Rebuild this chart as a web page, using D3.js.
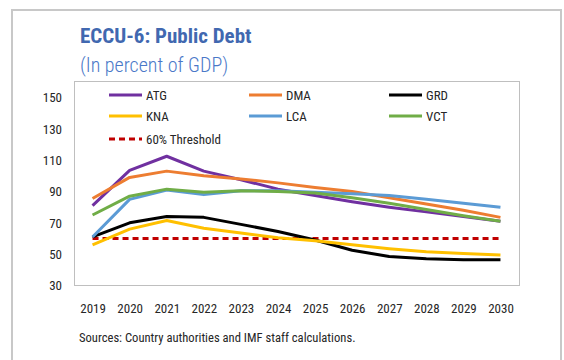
<!DOCTYPE html>
<html>
<head>
<meta charset="utf-8">
<script src="https://cdn.jsdelivr.net/npm/d3@7"></script>
<style>
  html, body { margin: 0; padding: 0; background: #fff; }
  svg { display: block; font-family: "Roboto Condensed", "Liberation Sans", sans-serif; }
</style>
</head>
<body>
<svg id="chart" width="564" height="360"></svg>
<script>
// Public debt, percent of GDP
const years = [2019, 2020, 2021, 2022, 2023, 2024, 2025, 2026, 2027, 2028, 2029, 2030];
const ATG = [81, 103.5, 112.5, 103, 97.5, 91.5, 87.5, 83.5, 80, 77, 74, 71];
const DMA = [85.5, 99, 103, 100, 98, 95.5, 92.5, 90, 86, 82, 78, 73.5];
const GRD = [61, 70, 74, 73.5, 69, 64.5, 59, 52.5, 48.5, 47, 46.5, 46.5];
const KNA = [56, 66, 71.5, 66.5, 63.5, 60.5, 58.5, 56, 53.5, 51.5, 50.5, 49.5];
const LCA = [61, 85, 91, 88, 90.5, 90.5, 89.5, 88.5, 87.5, 85, 82.5, 80];
const VCT = [75, 87, 91.5, 89.5, 90.5, 90, 89, 86, 82.5, 78.5, 74.5, 71];
const threshold = 60;
const yTicks = [30, 50, 70, 90, 110, 130, 150];

const series = [
  { name: "ATG", values: ATG, color: "#7030A0" },
  { name: "DMA", values: DMA, color: "#ED7D31" },
  { name: "GRD", values: GRD, color: "#000000" },
  { name: "KNA", values: KNA, color: "#FFC000" },
  { name: "LCA", values: LCA, color: "#5B9BD5" },
  { name: "VCT", values: VCT, color: "#70AD47" }
];
const thresholdColor = "#C00000";
const textColor = "#262626";
const labelSize = 13;

const svg = d3.select("#chart");

// outer frame
svg.append("rect")
  .attr("x", 12).attr("y", 10).attr("width", 549).attr("height", 360)
  .attr("fill", "none").attr("stroke", "#c8c8c8").attr("stroke-width", 2);

// title block
svg.append("text")
  .attr("x", 80).attr("y", 43)
  .attr("font-size", 21).attr("font-weight", "bold").attr("fill", "#4168B0")
  .text("ECCU-6: Public Debt");
svg.append("text")
  .attr("x", 80).attr("y", 72)
  .attr("font-size", 20).attr("fill", "#4A78C8").attr("font-weight", 300)
  .text("(In percent of GDP)");

const plot = { left: 74, top: 81, right: 519, bottom: 285 };

const x = d3.scalePoint().domain(years).range([plot.left, plot.right]).padding(0.5);
const y = d3.scaleLinear().domain([30, 150]).range([285.5, 97.5]);

// plot frame
svg.append("rect")
  .attr("x", plot.left + 0.5).attr("y", plot.top + 0.5)
  .attr("width", plot.right - plot.left).attr("height", plot.bottom - plot.top)
  .attr("fill", "none").attr("stroke", "#bfbfbf").attr("stroke-width", 1);

// y axis labels
const yAxis = d3.axisLeft(y).tickValues(yTicks).tickSize(0).tickPadding(0);
const gy = svg.append("g").attr("transform", "translate(62,0)").call(yAxis);
gy.select(".domain").remove();
gy.selectAll("text").attr("font-size", labelSize).attr("fill", textColor)
  .attr("font-family", "Roboto Condensed, sans-serif");

// x axis labels
const xAxis = d3.axisBottom(x).tickSize(0).tickPadding(0);
const gx = svg.append("g").attr("transform", "translate(0,304)").call(xAxis);
gx.select(".domain").remove();
gx.selectAll("text").attr("font-size", labelSize).attr("fill", textColor)
  .attr("font-family", "Roboto Condensed, sans-serif");

// threshold line
const line = d3.line().x((d, i) => x(years[i])).y(d => y(d));
svg.append("path")
  .datum(years.map(() => threshold))
  .attr("d", line)
  .attr("fill", "none").attr("stroke", thresholdColor)
  .attr("stroke-width", 3).attr("stroke-dasharray", "6,4");

// series lines
svg.append("g").selectAll("path")
  .data(series)
  .join("path")
  .attr("d", d => line(d.values))
  .attr("fill", "none")
  .attr("stroke", d => d.color)
  .attr("stroke-width", 3)
  .attr("stroke-linejoin", "round");

// legend
const legendCols = [109, 249, 389];
const legendRows = [95, 116, 139];
const lg = svg.append("g");
series.forEach((s, i) => {
  const cx = legendCols[i % 3], cy = legendRows[Math.floor(i / 3)];
  lg.append("line").attr("x1", cx).attr("x2", cx + 33).attr("y1", cy).attr("y2", cy)
    .attr("stroke", s.color).attr("stroke-width", 3);
  lg.append("text").attr("x", cx + 37).attr("y", cy + 5)
    .attr("font-size", labelSize).attr("fill", textColor).text(s.name);
});
lg.append("line").attr("x1", 109).attr("x2", 142).attr("y1", legendRows[2]).attr("y2", legendRows[2])
  .attr("stroke", thresholdColor).attr("stroke-width", 3).attr("stroke-dasharray", "6,4");
lg.append("text").attr("x", 146).attr("y", legendRows[2] + 5)
  .attr("font-size", labelSize).attr("fill", textColor).text("60% Threshold");

// source note
svg.append("text")
  .attr("x", 79).attr("y", 342)
  .attr("font-size", 12.6).attr("fill", textColor)
  .text("Sources: Country authorities and IMF staff calculations.");
</script>
</body>
</html>
